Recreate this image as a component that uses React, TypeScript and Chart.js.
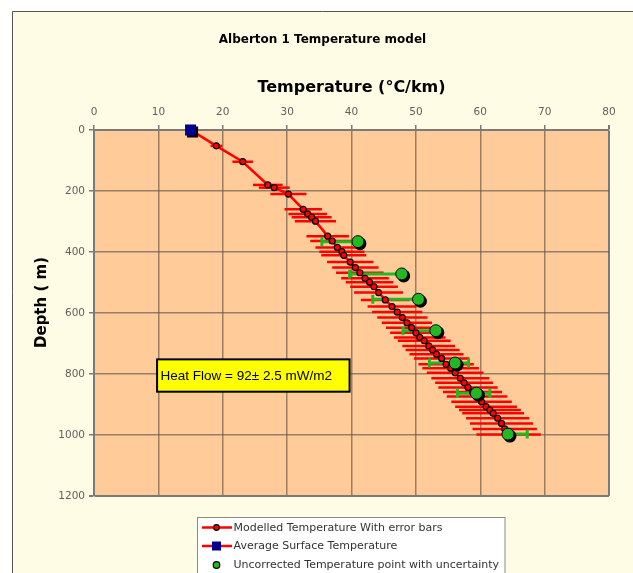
import React, { useEffect, useRef } from 'react';
import { Chart, registerables } from 'chart.js';

Chart.register(...registerables);

const W = 633;
const H = 573;

// ---- text ----
const chartTitle = 'Alberton 1 Temperature model';
const xTitle = 'Temperature (°C/km)';
const yTitle = 'Depth ( m)';
const heatFlowText = 'Heat Flow = 92± 2.5 mW/m2';
const legendLabels = [
  'Modelled Temperature With error bars',
  'Average Surface Temperature',
  'Uncorrected Temperature point with uncertainty',
];

// ---- axes ----
const xTickValues = [0, 10, 20, 30, 40, 50, 60, 70, 80];
const yTickValues = [0, 200, 400, 600, 800, 1000, 1200];

// ---- average surface temperature ----
const surfaceTemp = [15.0];
const surfaceDepth = [0];

// ---- modelled temperature with error bars ----
const modelTemp = [
  15.0, 19.0, 23.1, 27.0, 28.0, 30.2, 32.5, 33.2, 33.8, 34.4,
  36.3, 37.0, 37.8, 38.5, 38.8, 39.8, 40.6, 41.3, 42.1, 42.8,
  43.5, 44.2, 45.25, 46.3, 47.1, 47.9, 48.6, 49.35, 50.0, 50.6,
  51.3, 52.0, 52.6, 53.2, 54.0, 54.7, 55.4, 56.1, 56.9, 57.5,
  58.1, 58.8, 59.5, 60.2, 60.9, 61.5, 62.0, 62.7, 63.3, 63.8,
  64.4,
];
const modelDepth = [
  0, 52, 104, 180, 189, 210, 260, 275, 286, 299,
  348, 364, 385, 399, 411, 433, 451, 468, 486, 499,
  514, 533, 557, 579, 597, 615, 632, 648, 665, 680,
  691, 708, 721, 735, 749, 768, 781, 796, 814, 829,
  844, 859, 874, 891, 907, 918, 929, 945, 962, 980,
  998,
];
const modelErr = [
  0, 0.9, 1.6, 2.3, 2.4, 2.8, 2.9, 3.0, 3.1, 3.2,
  3.3, 3.4, 3.4, 3.5, 3.5, 3.6, 3.6, 3.7, 3.7, 3.7,
  3.7, 3.8, 3.8, 3.8, 3.9, 3.9, 3.9, 4.0, 4.0, 4.0,
  4.1, 4.1, 4.2, 4.2, 4.3, 4.3, 4.4, 4.4, 4.5, 4.5,
  4.6, 4.6, 4.7, 4.7, 4.8, 4.8, 4.8, 4.9, 4.9, 5.0,
  5.0,
];

// ---- uncorrected temperature points ----
const obsTemp = [41.0, 47.8, 50.4, 53.1, 56.1, 59.4, 64.3];
const obsDepth = [366, 472, 555, 658, 764, 863, 997];
const obsErrMinus = [5.6, 8.1, 7.1, 5.1, 4.0, 2.95, 0.5];
const obsErrPlus = [0.5, 0.5, 0.5, 0.5, 2.1, 2.1, 3.0];

// ---- heat flow label box (in data units) ----
const heatBoxT = [9.8, 39.7];
const heatBoxD = [752, 858];

// ---- colours ----
const RED = '#FF0000';
const BLUE = '#000090';
const GREEN = '#22B822';
const PEACH = '#FFCC99';
const CREAM = '#FFFCE6';
const AXIS = '#7a7a7a';
const GRID = 'rgba(95,85,75,0.65)';
const FONT = '"DejaVu Sans", Verdana, sans-serif';

// ---- layout constants ----
const TITLE_SIZE = 12;
const TITLE_CENTER_X = 322.5;
const TITLE_CENTER_Y = 40;
const PLOT_TOP = 130;
const PLOT_LEFT = 94;
const PLOT_RIGHT = 609;
const PLOT_BOTTOM = 496;
const AXIS_TITLE_SIZE = 16;
const XTITLE_CENTER_Y = 88;
const YTITLE_CENTER_X = 42.5;
const YTITLE_CENTER_Y = 302.5;

const decorPlugin = {
  id: 'decor',
  beforeDraw(chart: any) {
    const { ctx, chartArea } = chart;
    ctx.save();
    ctx.fillStyle = '#FFFFFF';
    ctx.fillRect(0, 0, W, H);
    ctx.fillStyle = CREAM;
    ctx.fillRect(12.5, 11.5, W, H);
    ctx.strokeStyle = '#555555';
    ctx.lineWidth = 1;
    ctx.beginPath();
    ctx.moveTo(12.5, H);
    ctx.lineTo(12.5, 11.5);
    ctx.lineTo(W, 11.5);
    ctx.stroke();
    ctx.fillStyle = PEACH;
    ctx.fillRect(chartArea.left, chartArea.top, chartArea.right - chartArea.left, chartArea.bottom - chartArea.top);
    ctx.restore();
  },
  beforeDatasetsDraw(chart: any) {
    const { ctx, chartArea, scales } = chart;
    const xs = scales.x;
    const ys = scales.y;
    ctx.save();
    ctx.beginPath();
    ctx.rect(chartArea.left, chartArea.top, chartArea.right - chartArea.left, chartArea.bottom - chartArea.top);
    ctx.clip();
    // modelled error bars
    ctx.strokeStyle = RED;
    ctx.lineWidth = 2.5;
    modelTemp.forEach((t, i) => {
      const e = modelErr[i];
      if (!e) return;
      const py = ys.getPixelForValue(modelDepth[i]);
      ctx.beginPath();
      ctx.moveTo(xs.getPixelForValue(t - e), py);
      ctx.lineTo(xs.getPixelForValue(t + e), py);
      ctx.stroke();
    });
    // uncorrected uncertainty whiskers
    ctx.strokeStyle = GREEN;
    ctx.lineWidth = 3;
    obsTemp.forEach((t, i) => {
      const py = ys.getPixelForValue(obsDepth[i]);
      const x1 = xs.getPixelForValue(t - obsErrMinus[i]);
      const x2 = xs.getPixelForValue(t + obsErrPlus[i]);
      ctx.beginPath();
      ctx.moveTo(x1, py);
      ctx.lineTo(x2, py);
      ctx.moveTo(x1, py - 4.5);
      ctx.lineTo(x1, py + 4.5);
      ctx.moveTo(x2, py - 4.5);
      ctx.lineTo(x2, py + 4.5);
      ctx.stroke();
    });
    ctx.restore();
  },
  beforeDatasetDraw(chart: any, args: any) {
    const ds = chart.data.datasets[args.index];
    if (!ds.shadow) return;
    const { ctx } = chart;
    ctx.save();
    ctx.fillStyle = '#000000';
    args.meta.data.forEach((pt: any) => {
      const r = ds.pointRadius;
      if (ds.pointStyle === 'rect') {
        const s = r * Math.SQRT1_2;
        ctx.fillRect(pt.x - s + 2, pt.y - s + 2, 2 * s, 2 * s);
      } else {
        ctx.beginPath();
        ctx.arc(pt.x + 2, pt.y + 2, r + 0.5, 0, Math.PI * 2);
        ctx.fill();
      }
    });
    ctx.restore();
  },
  afterDraw(chart: any) {
    const { ctx, scales } = chart;
    const xs = scales.x;
    const ys = scales.y;
    ctx.save();
    // chart title
    ctx.fillStyle = '#000000';
    ctx.font = `bold ${TITLE_SIZE}px ${FONT}`;
    ctx.textAlign = 'center';
    ctx.textBaseline = 'middle';
    ctx.fillText(chartTitle, TITLE_CENTER_X, TITLE_CENTER_Y);

    // y axis title
    ctx.save();
    ctx.translate(YTITLE_CENTER_X, YTITLE_CENTER_Y);
    ctx.rotate(-Math.PI / 2);
    ctx.font = `bold ${AXIS_TITLE_SIZE - 1}px ${FONT}`;
    ctx.fillText(yTitle, 0, 0);
    ctx.restore();

    // heat flow box
    const bx1 = xs.getPixelForValue(heatBoxT[0]);
    const bx2 = xs.getPixelForValue(heatBoxT[1]);
    const by1 = ys.getPixelForValue(heatBoxD[0]);
    const by2 = ys.getPixelForValue(heatBoxD[1]);
    ctx.fillStyle = '#FFFF00';
    ctx.fillRect(bx1, by1, bx2 - bx1, by2 - by1);
    ctx.strokeStyle = '#000000';
    ctx.lineWidth = 2;
    ctx.strokeRect(bx1, by1, bx2 - bx1, by2 - by1);
    ctx.fillStyle = '#000000';
    ctx.font = '13.5px "Liberation Sans", Arial, sans-serif';
    ctx.textAlign = 'left';
    ctx.textBaseline = 'middle';
    ctx.fillText(heatFlowText, bx1 + 3.5, (by1 + by2) / 2 + 0.5);

    // legend
    const lx = 197.5;
    const ly = 517.5;
    ctx.fillStyle = '#FFFFFF';
    ctx.fillRect(lx, ly, 307.5, 70);
    ctx.strokeStyle = '#8a8a8a';
    ctx.lineWidth = 1;
    ctx.strokeRect(lx, ly, 307.5, 70);
    const rows = [527.5, 546, 565];
    const symX = 216.5;
    ctx.strokeStyle = RED;
    ctx.lineWidth = 2.5;
    ctx.beginPath();
    ctx.moveTo(202, rows[0]);
    ctx.lineTo(232, rows[0]);
    ctx.moveTo(202, rows[1]);
    ctx.lineTo(232, rows[1]);
    ctx.stroke();
    ctx.fillStyle = RED;
    ctx.strokeStyle = '#000000';
    ctx.lineWidth = 1.2;
    ctx.beginPath();
    ctx.arc(symX, rows[0], 2.8, 0, Math.PI * 2);
    ctx.fill();
    ctx.stroke();
    ctx.fillStyle = BLUE;
    ctx.fillRect(symX - 4.5, rows[1] - 4.5, 9, 9);
    ctx.fillStyle = GREEN;
    ctx.beginPath();
    ctx.arc(symX, rows[2], 3.3, 0, Math.PI * 2);
    ctx.fill();
    ctx.stroke();
    ctx.fillStyle = '#333333';
    ctx.font = `11px ${FONT}`;
    ctx.textAlign = 'left';
    ctx.textBaseline = 'middle';
    legendLabels.forEach((l, i) => ctx.fillText(l, 233.5, rows[i] + 0.5));
    ctx.restore();
  },
};

export default function App() {
  const ref = useRef<HTMLCanvasElement>(null);

  useEffect(() => {
    const canvas = ref.current;
    if (!canvas) return;
    const gridColor = (ctx: any, last: number) =>
      ctx.tick && ctx.tick.value === last ? AXIS : GRID;
    const gridWidth = (ctx: any, last: number) =>
      ctx.tick && ctx.tick.value === last ? 2 : 1.5;

    const chart = new Chart(canvas, {
      type: 'scatter',
      data: {
        datasets: [
          {
            label: legendLabels[2],
            data: obsTemp.map((t, i) => ({ x: t, y: obsDepth[i] })),
            pointRadius: 6,
            pointHoverRadius: 6,
            pointBackgroundColor: GREEN,
            pointBorderColor: '#000000',
            pointBorderWidth: 1,
            showLine: false,
            order: 0,
            shadow: true,
          } as any,
          {
            label: legendLabels[1],
            data: surfaceTemp.map((t, i) => ({ x: t, y: surfaceDepth[i] })),
            pointStyle: 'rect',
            pointRadius: 7.8,
            pointHoverRadius: 7.8,
            pointBackgroundColor: BLUE,
            pointBorderColor: BLUE,
            pointBorderWidth: 0,
            showLine: false,
            clip: false,
            order: 1,
            shadow: true,
          } as any,
          {
            label: legendLabels[0],
            data: modelTemp.map((t, i) => ({ x: t, y: modelDepth[i] })),
            showLine: true,
            borderColor: RED,
            borderWidth: 2.5,
            pointRadius: 3,
            pointHoverRadius: 3,
            pointBackgroundColor: RED,
            pointBorderColor: '#000000',
            pointBorderWidth: 1.2,
            order: 2,
          } as any,
        ],
      },
      options: {
        animation: false,
        responsive: false,
        devicePixelRatio: 1,
        events: [],
        layout: {
          padding: { left: 0, top: 0, right: W - PLOT_RIGHT, bottom: H - PLOT_BOTTOM },
        },
        plugins: {
          legend: { display: false },
          tooltip: { enabled: false },
          title: { display: false },
        },
        scales: {
          x: {
            type: 'linear',
            position: 'top',
            min: 0,
            max: 80,
            afterBuildTicks: (s: any) => {
              s.ticks = xTickValues.map((v) => ({ value: v }));
            },
            afterFit: (s: any) => {
              s.height = PLOT_TOP;
            },
            ticks: {
              color: '#5f5f5f',
              font: { family: FONT, size: 10.5 },
              padding: 6,
              maxRotation: 0,
              callback: (v: any) => String(v),
            },
            grid: {
              color: (c: any) => gridColor(c, 80),
              lineWidth: (c: any) => gridWidth(c, 80),
              tickColor: AXIS,
              tickLength: 5,
            },
            border: { color: AXIS, width: 2 },
            title: {
              display: true,
              text: xTitle,
              color: '#000000',
              font: { family: FONT, size: AXIS_TITLE_SIZE, weight: 'bold' },
              padding: { top: XTITLE_CENTER_Y - (AXIS_TITLE_SIZE * 1.2) / 2, bottom: 0 },
            },
          },
          y: {
            type: 'linear',
            reverse: true,
            min: 0,
            max: 1200,
            afterBuildTicks: (s: any) => {
              s.ticks = yTickValues.map((v) => ({ value: v }));
            },
            afterFit: (s: any) => {
              s.width = PLOT_LEFT;
            },
            ticks: {
              color: '#5f5f5f',
              font: { family: FONT, size: 10.5 },
              padding: 4,
              callback: (v: any) => String(v),
            },
            grid: {
              color: (c: any) => gridColor(c, 1200),
              lineWidth: (c: any) => gridWidth(c, 1200),
              tickColor: AXIS,
              tickLength: 5,
            },
            border: { color: AXIS, width: 2 },
            title: { display: false },
          },
        },
      } as any,
      plugins: [decorPlugin],
    });
    return () => chart.destroy();
  }, []);

  return (
    <div style={{ position: 'fixed', left: 0, top: 0, width: W, height: H }}>
      <canvas ref={ref} width={W} height={H} style={{ display: 'block', width: W, height: H }} />
    </div>
  );
}
